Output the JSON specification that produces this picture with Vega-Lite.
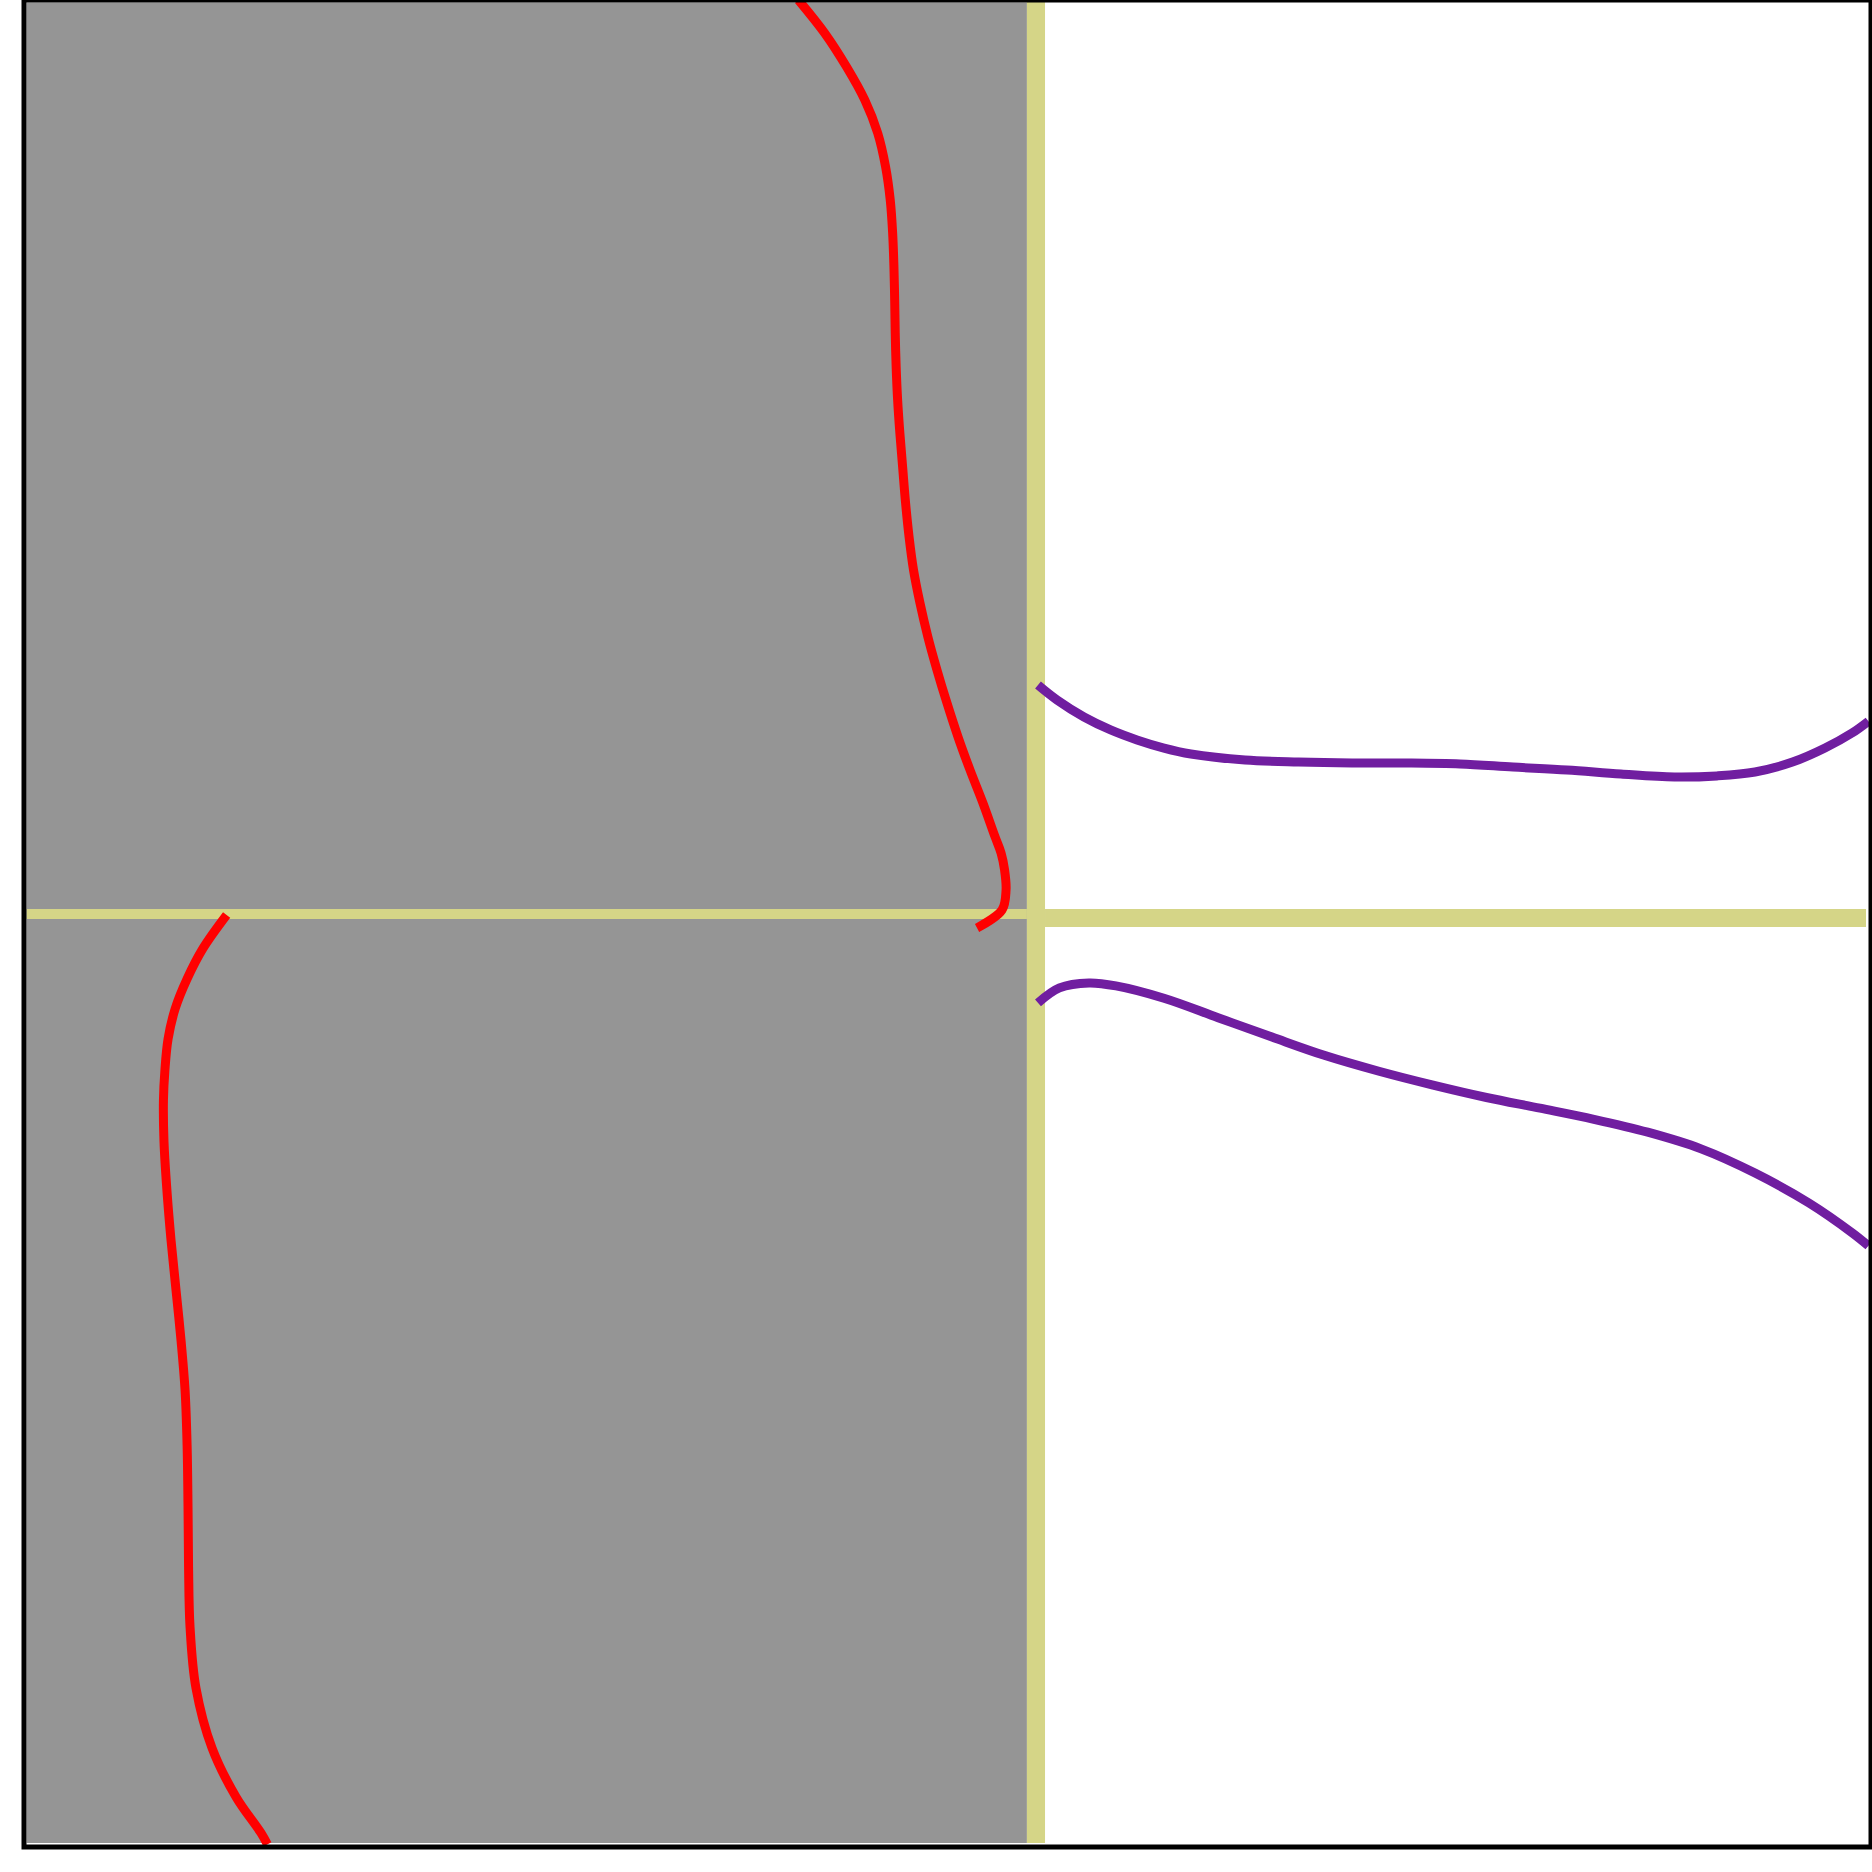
{
  "$schema": "https://vega.github.io/schema/vega-lite/v6.json",
  "autosize": {"type": "none"},
  "width": 1847,
  "height": 1847,
  "padding": {"left": 24, "top": 0, "right": 1, "bottom": 25},
  "background": "white",
  "config": {"view": {"stroke": "#000000", "strokeWidth": 5}, "group": {"strokeForeground": true}},
  "datasets": {
    "regions": [
      {"kind": "shade", "x1": 0.14, "x2": 54.30, "y1": 0.22, "y2": 99.86},
      {"kind": "band", "x1": 54.30, "x2": 55.28, "y1": 0.22, "y2": 100},
      {"kind": "band", "x1": 0.14, "x2": 54.30, "y1": 50.24, "y2": 50.78},
      {"kind": "band", "x1": 55.28, "x2": 99.73, "y1": 49.81, "y2": 50.78}
    ],
    "curves": [
      {"s": "r1", "i": 1, "x": 41.93, "y": 100.0},
      {"s": "r1", "i": 2, "x": 43.35, "y": 98.21},
      {"s": "r1", "i": 3, "x": 44.54, "y": 96.37},
      {"s": "r1", "i": 4, "x": 45.52, "y": 94.59},
      {"s": "r1", "i": 5, "x": 46.22, "y": 92.80},
      {"s": "r1", "i": 6, "x": 46.65, "y": 90.96},
      {"s": "r1", "i": 7, "x": 46.90, "y": 89.17},
      {"s": "r1", "i": 8, "x": 47.03, "y": 87.38},
      {"s": "r1", "i": 9, "x": 47.10, "y": 85.54},
      {"s": "r1", "i": 10, "x": 47.14, "y": 83.76},
      {"s": "r1", "i": 11, "x": 47.17, "y": 81.97},
      {"s": "r1", "i": 12, "x": 47.22, "y": 80.13},
      {"s": "r1", "i": 13, "x": 47.30, "y": 78.34},
      {"s": "r1", "i": 14, "x": 47.42, "y": 76.56},
      {"s": "r1", "i": 15, "x": 47.57, "y": 74.72},
      {"s": "r1", "i": 16, "x": 47.73, "y": 72.77},
      {"s": "r1", "i": 17, "x": 47.92, "y": 70.93},
      {"s": "r1", "i": 18, "x": 48.16, "y": 69.14},
      {"s": "r1", "i": 19, "x": 48.51, "y": 67.35},
      {"s": "r1", "i": 20, "x": 48.94, "y": 65.51},
      {"s": "r1", "i": 21, "x": 49.43, "y": 63.73},
      {"s": "r1", "i": 22, "x": 49.97, "y": 61.94},
      {"s": "r1", "i": 23, "x": 50.57, "y": 60.10},
      {"s": "r1", "i": 24, "x": 51.22, "y": 58.31},
      {"s": "r1", "i": 25, "x": 51.92, "y": 56.52},
      {"s": "r1", "i": 26, "x": 52.58, "y": 54.68},
      {"s": "r1", "i": 27, "x": 52.90, "y": 53.82},
      {"s": "r1", "i": 28, "x": 53.09, "y": 52.90},
      {"s": "r1", "i": 29, "x": 53.17, "y": 51.81},
      {"s": "r1", "i": 30, "x": 52.95, "y": 50.73},
      {"s": "r1", "i": 31, "x": 51.60, "y": 49.76},
      {"s": "r2", "i": 1, "x": 10.97, "y": 50.46},
      {"s": "r2", "i": 2, "x": 9.69, "y": 48.65},
      {"s": "r2", "i": 3, "x": 8.83, "y": 47.00},
      {"s": "r2", "i": 4, "x": 8.18, "y": 45.37},
      {"s": "r2", "i": 5, "x": 7.80, "y": 43.75},
      {"s": "r2", "i": 6, "x": 7.63, "y": 42.07},
      {"s": "r2", "i": 7, "x": 7.55, "y": 40.44},
      {"s": "r2", "i": 8, "x": 7.58, "y": 38.17},
      {"s": "r2", "i": 9, "x": 7.74, "y": 35.52},
      {"s": "r2", "i": 10, "x": 7.96, "y": 32.86},
      {"s": "r2", "i": 11, "x": 8.23, "y": 30.16},
      {"s": "r2", "i": 12, "x": 8.50, "y": 27.45},
      {"s": "r2", "i": 13, "x": 8.72, "y": 24.74},
      {"s": "r2", "i": 14, "x": 8.83, "y": 21.77},
      {"s": "r2", "i": 15, "x": 8.88, "y": 18.46},
      {"s": "r2", "i": 16, "x": 8.91, "y": 15.16},
      {"s": "r2", "i": 17, "x": 8.99, "y": 11.91},
      {"s": "r2", "i": 18, "x": 9.31, "y": 8.61},
      {"s": "r2", "i": 19, "x": 10.18, "y": 5.36},
      {"s": "r2", "i": 20, "x": 11.48, "y": 2.71},
      {"s": "r2", "i": 21, "x": 12.83, "y": 0.76},
      {"s": "r2", "i": 22, "x": 13.18, "y": 0.14},
      {"s": "p1", "i": 1, "x": 54.90, "y": 62.91},
      {"s": "p1", "i": 2, "x": 55.93, "y": 62.10},
      {"s": "p1", "i": 3, "x": 57.39, "y": 61.18},
      {"s": "p1", "i": 4, "x": 58.83, "y": 60.48},
      {"s": "p1", "i": 5, "x": 60.26, "y": 59.94},
      {"s": "p1", "i": 6, "x": 61.72, "y": 59.50},
      {"s": "p1", "i": 7, "x": 63.18, "y": 59.18},
      {"s": "p1", "i": 8, "x": 66.11, "y": 58.85},
      {"s": "p1", "i": 9, "x": 69.00, "y": 58.74},
      {"s": "p1", "i": 10, "x": 71.90, "y": 58.69},
      {"s": "p1", "i": 11, "x": 74.82, "y": 58.69},
      {"s": "p1", "i": 12, "x": 77.75, "y": 58.64},
      {"s": "p1", "i": 13, "x": 80.62, "y": 58.47},
      {"s": "p1", "i": 14, "x": 83.54, "y": 58.31},
      {"s": "p1", "i": 15, "x": 86.46, "y": 58.09},
      {"s": "p1", "i": 16, "x": 89.36, "y": 57.93},
      {"s": "p1", "i": 17, "x": 91.66, "y": 57.99},
      {"s": "p1", "i": 18, "x": 93.72, "y": 58.20},
      {"s": "p1", "i": 19, "x": 95.75, "y": 58.74},
      {"s": "p1", "i": 20, "x": 97.51, "y": 59.50},
      {"s": "p1", "i": 21, "x": 98.97, "y": 60.31},
      {"s": "p1", "i": 22, "x": 99.86, "y": 60.95},
      {"s": "p2", "i": 1, "x": 54.90, "y": 45.70},
      {"s": "p2", "i": 2, "x": 56.06, "y": 46.51},
      {"s": "p2", "i": 3, "x": 57.66, "y": 46.78},
      {"s": "p2", "i": 4, "x": 59.12, "y": 46.62},
      {"s": "p2", "i": 5, "x": 61.72, "y": 45.95},
      {"s": "p2", "i": 6, "x": 64.65, "y": 44.90},
      {"s": "p2", "i": 7, "x": 67.57, "y": 43.85},
      {"s": "p2", "i": 8, "x": 70.44, "y": 42.85},
      {"s": "p2", "i": 9, "x": 73.36, "y": 42.00},
      {"s": "p2", "i": 10, "x": 76.29, "y": 41.25},
      {"s": "p2", "i": 11, "x": 79.18, "y": 40.58},
      {"s": "p2", "i": 12, "x": 82.08, "y": 40.00},
      {"s": "p2", "i": 13, "x": 85.00, "y": 39.40},
      {"s": "p2", "i": 14, "x": 87.91, "y": 38.70},
      {"s": "p2", "i": 15, "x": 90.80, "y": 37.80},
      {"s": "p2", "i": 16, "x": 93.72, "y": 36.49},
      {"s": "p2", "i": 17, "x": 96.64, "y": 34.87},
      {"s": "p2", "i": 18, "x": 99.00, "y": 33.24},
      {"s": "p2", "i": 19, "x": 99.86, "y": 32.55}
    ]
  },
  "layer": [
    {
      "data": {"name": "regions"},
      "mark": {"type": "rect", "strokeWidth": 0},
      "encoding": {
        "x": {"field": "x1", "type": "quantitative", "scale": {"domain": [0, 100], "nice": false, "zero": false}, "axis": null},
        "x2": {"field": "x2"},
        "y": {"field": "y1", "type": "quantitative", "scale": {"domain": [0, 100], "nice": false, "zero": false}, "axis": null},
        "y2": {"field": "y2"},
        "color": {"field": "kind", "type": "nominal", "scale": {"domain": ["shade", "band"], "range": ["#959595", "#d5d587"]}, "legend": null}
      }
    },
    {
      "data": {"name": "curves"},
      "mark": {"type": "line", "strokeWidth": 9, "interpolate": "catmull-rom", "clip": true, "strokeCap": "butt", "strokeJoin": "round"},
      "encoding": {
        "x": {"field": "x", "type": "quantitative"},
        "y": {"field": "y", "type": "quantitative"},
        "order": {"field": "i", "type": "quantitative"},
        "detail": {"field": "s", "type": "nominal"},
        "stroke": {"field": "s", "type": "nominal", "scale": {"domain": ["r1", "r2", "p1", "p2"], "range": ["#ff0000", "#ff0000", "#701ea0", "#701ea0"]}, "legend": null}
      }
    }
  ],
  "resolve": {"scale": {"color": "independent"}}
}
